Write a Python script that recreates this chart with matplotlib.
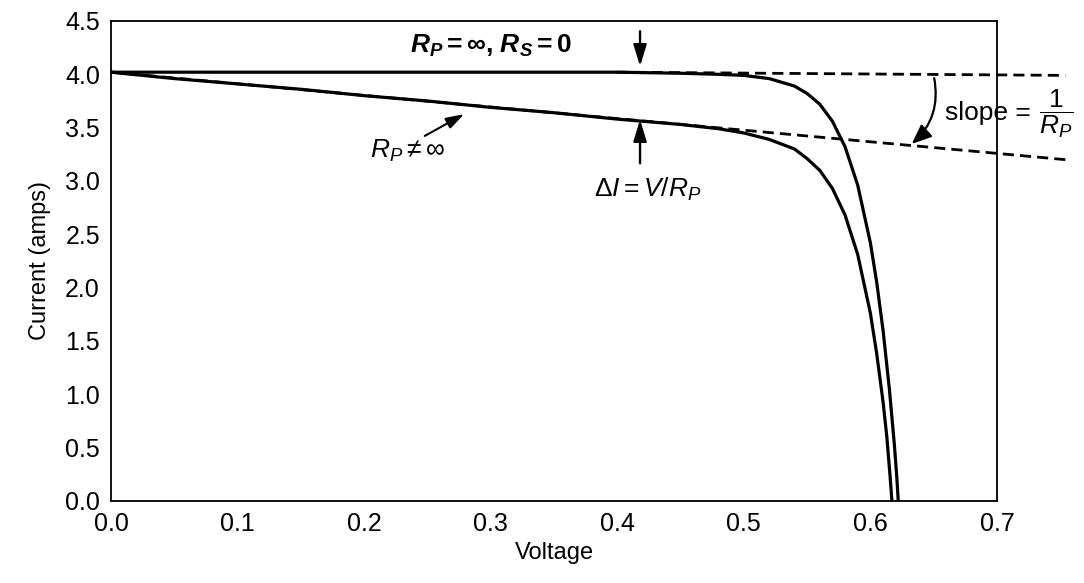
import matplotlib
matplotlib.use("Agg")
import matplotlib.pyplot as plt
from matplotlib.patches import FancyArrowPatch

plt.rcParams['font.family'] = ['Liberation Sans', 'DejaVu Sans']
plt.rcParams['mathtext.fontset'] = 'custom'
plt.rcParams['mathtext.rm'] = 'Liberation Sans'
plt.rcParams['mathtext.it'] = 'Liberation Sans:italic'
plt.rcParams['mathtext.bf'] = 'Liberation Sans:bold'
plt.rcParams['mathtext.bfit'] = 'Liberation Sans:bold:italic'
plt.rcParams['mathtext.sf'] = 'Liberation Sans'

# ---- data ----
v_ideal = [0.0, 0.05, 0.10, 0.15, 0.20, 0.25, 0.30, 0.35, 0.40, 0.45, 0.48, 0.50,
           0.52, 0.54, 0.55, 0.56, 0.57, 0.58, 0.59, 0.60, 0.605, 0.61, 0.615,
           0.619, 0.621, 0.622]
i_ideal = [4.02, 4.02, 4.02, 4.02, 4.02, 4.02, 4.02, 4.02, 4.02, 4.01, 4.00, 3.99,
           3.96, 3.89, 3.82, 3.72, 3.56, 3.32, 2.96, 2.42, 2.05, 1.60, 1.05,
           0.52, 0.20, 0.0]

v_rp = [0.0, 0.05, 0.10, 0.15, 0.20, 0.25, 0.30, 0.35, 0.40, 0.45, 0.48, 0.50,
        0.52, 0.54, 0.55, 0.56, 0.57, 0.58, 0.59, 0.60, 0.605, 0.61, 0.613,
        0.6155, 0.617]
i_rp = [4.02, 3.96, 3.91, 3.86, 3.80, 3.75, 3.69, 3.64, 3.58, 3.53, 3.49, 3.45,
        3.39, 3.30, 3.21, 3.10, 2.93, 2.68, 2.31, 1.76, 1.38, 0.93, 0.60,
        0.24, 0.0]

v_flat_ext = [0.40, 0.754]
i_flat_ext = [4.02, 3.99]

v_slope_ext = [0.0, 0.754]
i_slope_ext = [4.02, 3.20]

x_ticks = [0.0, 0.1, 0.2, 0.3, 0.4, 0.5, 0.6, 0.7]
y_ticks = [0.0, 0.5, 1.0, 1.5, 2.0, 2.5, 3.0, 3.5, 4.0, 4.5]

fig = plt.figure(figsize=(10.84, 5.83), dpi=100)
ax = fig.add_axes([0.1024, 0.1407, 0.8173, 0.8233])

dash = (4.0, 2.2)
ax.plot(v_slope_ext, i_slope_ext, color='black', lw=2.0, dashes=dash, clip_on=False)
ax.plot(v_flat_ext, i_flat_ext, color='black', lw=2.0, dashes=dash, clip_on=False)
ax.plot(v_ideal, i_ideal, color='black', lw=2.3, solid_capstyle='butt')
ax.plot(v_rp, i_rp, color='black', lw=2.3, solid_capstyle='butt')

ax.set_xlim(0, 0.7)
ax.set_ylim(0, 4.5)
ax.set_xticks(x_ticks)
ax.set_yticks(y_ticks)
ax.set_xticklabels([f"{t:.1f}" for t in x_ticks])
ax.set_yticklabels([f"{t:.1f}" for t in y_ticks])
ax.tick_params(length=0, labelsize=18, pad=8)
for s in ax.spines.values():
    s.set_linewidth(1.3)

ax.set_xlabel("Voltage", fontsize=17, labelpad=4)
ax.set_ylabel("Current (amps)", fontsize=17, labelpad=10)

ann_fs = 19
head = '-|>,head_width=0.4,head_length=1.3'
# annotations
ax.text(0.30, 4.27, r"$\mathbfit{R}_{\mathbfit{P}}\mathbf{=}\mathbf{\infty}\mathbf{,}\ \mathbfit{R}_{\mathbfit{S}}\mathbf{=0}$",
        fontsize=ann_fs, ha='center', va='center')
ax.annotate("", xy=(0.418, 4.05), xytext=(0.418, 4.43),
            arrowprops=dict(arrowstyle=head, color='black', lw=1.7))
ax.annotate("", xy=(0.418, 3.60), xytext=(0.418, 3.14),
            arrowprops=dict(arrowstyle=head, color='black', lw=1.7))
ax.text(0.424, 2.92, r"$\Delta I = V/R_P$", fontsize=ann_fs, ha='center', va='center')
ax.annotate("", xy=(0.281, 3.64), xytext=(0.246, 3.41),
            arrowprops=dict(arrowstyle='-|>,head_width=0.35,head_length=1.1', color='black', lw=1.5))
ax.text(0.234, 3.28, r"$R_P \neq \infty$", fontsize=ann_fs, ha='center', va='center')

arr = FancyArrowPatch((0.650, 3.99), (0.631, 3.33), connectionstyle="arc3,rad=-0.3",
                      arrowstyle='-|>,head_width=5,head_length=12', color='black', lw=1.6,
                      clip_on=False)
ax.add_patch(arr)
ax.text(0.659, 3.64, "slope =", fontsize=ann_fs, ha='left', va='center', clip_on=False)
ax.text(0.747, 3.63, r"$\dfrac{1}{R_P}$", fontsize=ann_fs, ha='center', va='center', clip_on=False)

fig.savefig("out.png", dpi=100)
